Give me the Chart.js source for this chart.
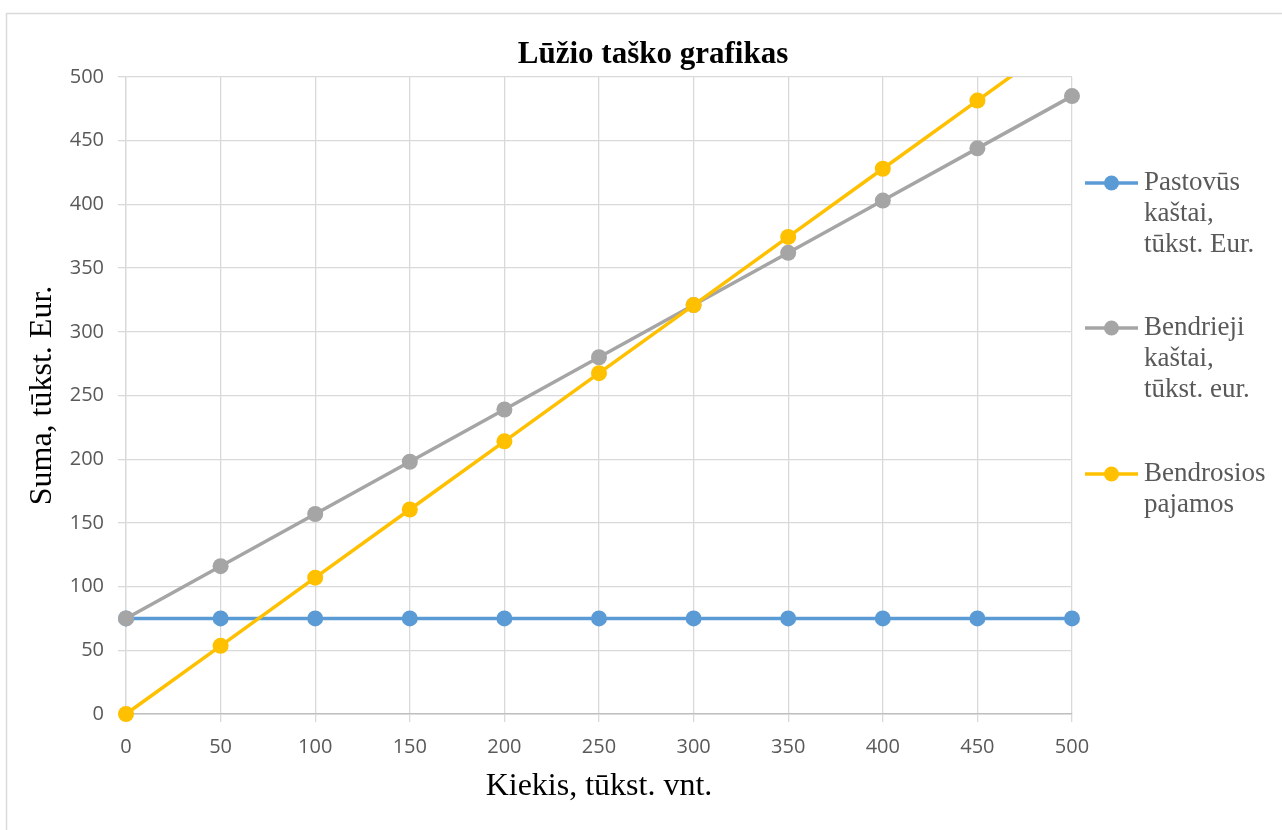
<!DOCTYPE html>
<html>
<head>
<meta charset="utf-8">
<script src="https://cdn.jsdelivr.net/npm/chart.js@4"></script>
<style>
  html, body { margin: 0; padding: 0; background: #fff; }
  canvas { display: block; }
</style>
</head>
<body>
<canvas id="bepChart" width="1282" height="830"></canvas>
<script>
// values
const quantities = [0, 50, 100, 150, 200, 250, 300, 350, 400, 450, 500];
const fixedCosts = [75, 75, 75, 75, 75, 75, 75, 75, 75, 75, 75];
const totalCosts = [75, 116, 157, 198, 239, 280, 321, 362, 403, 444, 485];
const revenue = [0, 53.5, 107, 160.5, 214, 267.5, 321, 374.5, 428, 481.5, 535];
const seriesNames = [
  ["Pastovūs", "kaštai,", "tūkst. Eur."],
  ["Bendrieji", "kaštai,", "tūkst. eur."],
  ["Bendrosios", "pajamos"]
];
const seriesColors = ["#5B9BD5", "#A5A5A5", "#FFC000"];
const chartTitle = "Lūžio taško grafikas";

const toPoints = vals => vals.map((v, i) => ({ x: quantities[i], y: v }));

/* frame + title + legend, drawn by hand so they sit like the original */
const decor = {
  id: "decor",
  beforeDraw(chart) {
    const c = chart.ctx;
    c.save();
    c.fillStyle = "#fff";
    c.fillRect(0, 0, chart.width, chart.height);
    c.strokeStyle = "#d9d9d9";
    c.lineWidth = 1.5;
    c.strokeRect(6.5, 13.5, chart.width, chart.height);
    c.restore();
  },
  afterDraw(chart) {
    const c = chart.ctx;
    c.save();
    c.fillStyle = "#000";
    c.font = "bold 31px 'Liberation Serif'";
    c.textAlign = "center";
    c.textBaseline = "middle";
    c.fillText(chartTitle, 653, 55);

    // legend
    const tops = [183, 328, 474];
    chart.data.datasets.forEach((ds, i) => {
      const y = tops[i];
      c.strokeStyle = ds.borderColor;
      c.lineWidth = 3.5;
      c.beginPath();
      c.moveTo(1085, y);
      c.lineTo(1138, y);
      c.stroke();
      c.fillStyle = ds.borderColor;
      c.beginPath();
      c.arc(1111.5, y, 7.5, 0, Math.PI * 2);
      c.fill();
      c.fillStyle = "#595959";
      c.font = "27px 'Liberation Serif'";
      c.textAlign = "left";
      c.textBaseline = "middle";
      ds.label.forEach((line, j) => c.fillText(line, 1144, y + j * 31));
    });
    c.restore();
  }
};

const datasets = [fixedCosts, totalCosts, revenue].map((vals, i) => ({
  label: seriesNames[i],
  data: toPoints(vals),
  borderColor: seriesColors[i],
  backgroundColor: seriesColors[i],
  pointBackgroundColor: seriesColors[i],
  pointBorderColor: seriesColors[i],
  borderWidth: 3.5,
  pointRadius: 8,
  pointBorderWidth: 0,
  tension: 0
}));
// draw order like Excel: blue under gray under yellow
datasets.forEach((d, i) => { d.order = 3 - i; });

new Chart(document.getElementById("bepChart"), {
  type: "line",
  data: { datasets },
  options: {
    responsive: false,
    animation: false,
    clip: { left: 10, right: 10, top: 0, bottom: 10 },
    layout: { padding: { top: 77, right: 210, left: 0, bottom: 0 } },
    plugins: {
      legend: { display: false },
      title: { display: false },
      tooltip: { enabled: false }
    },
    scales: {
      x: {
        type: "linear",
        min: 0,
        max: 500,
        afterFit: s => { s.height = 116; },
        ticks: {
          stepSize: 50,
          color: "#595959",
          font: { family: "'Open Sans'", size: 20 },
          padding: 13
        },
        grid: { color: "#d9d9d9", lineWidth: 1.3, tickLength: 8 },
        border: { color: "#bfbfbf", width: 1.5 },
        title: {
          display: true,
          text: "Kiekis, tūkst. vnt.",
          color: "#000",
          font: { family: "'Liberation Serif'", size: 32 },
          padding: { top: 0, bottom: 24 }
        }
      },
      y: {
        min: 0,
        max: 500,
        afterFit: s => { s.width = 126; },
        ticks: {
          stepSize: 50,
          color: "#595959",
          font: { family: "'Open Sans'", size: 20 },
          padding: 14
        },
        grid: { color: "#d9d9d9", lineWidth: 1.3, tickLength: 8 },
        border: { color: "#d9d9d9", width: 1.3 },
        title: {
          display: true,
          text: "Suma, tūkst. Eur.",
          color: "#000",
          font: { family: "'Liberation Serif'", size: 32 },
          padding: { top: 23, bottom: 0 }
        }
      }
    }
  },
  plugins: [decor]
});
</script>
</body>
</html>
